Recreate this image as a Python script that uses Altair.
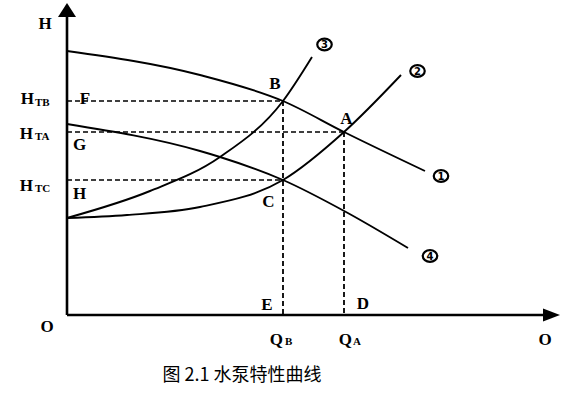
import altair as alt
import pandas as pd

# ---- data (Q, H in chart units; origin at O) ----
curve1_q = [0, 133, 216, 277, 358]
curve1_h = [264, 240, 214, 183, 144]
curve2_q = [0, 60, 133, 216, 277, 334]
curve2_h = [97, 100, 108, 135, 183, 240]
curve3_q = [0, 83, 153, 216, 245]
curve3_h = [97, 124, 158, 214, 258]
curve4_q = [0, 133, 153, 216, 279, 341]
curve4_h = [191, 164, 158, 135, 103, 67]

point_names = ["B", "A", "C"]
point_q = [216, 277, 216]
point_h = [214, 183, 135]

# centred letters
main_text = ["H", "F", "G", "H", "B", "A", "C", "E", "D", "O", "O"]
main_q = [-22, 18, 12.5, 12.5, 208, 279.5, 201.5, 200, 296, -20, 478]
main_h = [291.5, 216.5, 170, 121, 231.5, 196.5, 113.5, 10, 11, -12, -25]

# base letters of subscripted labels (right-aligned) and their subscripts (left-aligned)
base_text = ["H", "H", "H", "Q", "Q"]
base_q = [-33, -34, -34, 216, 285]
base_h = [216, 181, 129, -25, -25]
sub_text = ["TB", "TA", "TC", "B", "A"]
sub_q = [-32, -32, -32, 218, 286]
sub_h = [212.5, 178, 126, -26.5, -26.5]

# circled curve numbers
circ_text = ["3", "2", "1", "4"]
circ_q = [257.5, 350.5, 374, 363]
circ_h = [270.5, 244, 139, 59]

caption = "图 2.1  水泵特性曲线"
caption_q = 175
caption_h = -61

X_AXIS_END = 476
Y_AXIS_END = 298

xs = alt.Scale(domain=[-67, 504], nice=False, zero=False)
ys = alt.Scale(domain=[-79, 315], nice=False, zero=False)

rows = []
for name, qs, hs in [("1", curve1_q, curve1_h), ("2", curve2_q, curve2_h),
                     ("3", curve3_q, curve3_h), ("4", curve4_q, curve4_h)]:
    for i, (q, h) in enumerate(zip(qs, hs)):
        rows.append({"curve": name, "Q": q, "H": h, "o": i})
curves = pd.DataFrame(rows)

X = lambda f="Q:Q": alt.X(f, scale=xs, axis=None)
Y = lambda f="H:Q": alt.Y(f, scale=ys, axis=None)

lines = alt.Chart(curves).mark_line(interpolate="monotone", color="black", strokeWidth=1.9).encode(
    x=X(), y=Y(), detail="curve:N", order="o:Q",
)

pts = pd.DataFrame({"name": point_names, "Q": point_q, "H": point_h,
                    "zero": [0] * len(point_names)})
hdash = alt.Chart(pts).mark_rule(color="black", strokeDash=[5, 3], strokeWidth=1.6).encode(
    x=X("zero:Q"), x2="Q:Q", y=Y(),
)
vpts = pts[pts["name"] != "C"]
vdash = alt.Chart(vpts).mark_rule(color="black", strokeDash=[5, 3], strokeWidth=1.8).encode(
    x=X(), y=Y(), y2="zero:Q",
)

axes_df = pd.DataFrame({"Q": [0, 0], "H": [0, 0], "Q2": [X_AXIS_END, 0], "H2": [0, Y_AXIS_END]})
axes = alt.Chart(axes_df).mark_rule(color="black", strokeWidth=2.6).encode(
    x=X(), y=Y(), x2="Q2:Q", y2="H2:Q",
)

arrow_up = alt.Chart(pd.DataFrame({"Q": [0], "H": [Y_AXIS_END + 7]})).mark_point(
    shape="M0,-0.78L1,0.78L-1,0.78Z", size=324, filled=True, color="black", opacity=1
).encode(x=X(), y=Y())
arrow_right = alt.Chart(pd.DataFrame({"Q": [X_AXIS_END + 8.5], "H": [0]})).mark_point(
    shape="M1,0L-1,-0.76L-1,0.76Z", size=289, filled=True, color="black", opacity=1
).encode(x=X(), y=Y())

serif = dict(font="Liberation Serif", fontWeight="bold", color="black", baseline="middle")

main = alt.Chart(pd.DataFrame({"t": main_text, "Q": main_q, "H": main_h})).mark_text(
    fontSize=17, align="center", **serif
).encode(x=X(), y=Y(), text="t:N")

base = alt.Chart(pd.DataFrame({"t": base_text, "Q": base_q, "H": base_h})).mark_text(
    fontSize=17, align="right", **serif
).encode(x=X(), y=Y(), text="t:N")

sub = alt.Chart(pd.DataFrame({"t": sub_text, "Q": sub_q, "H": sub_h})).mark_text(
    fontSize=11, align="left", **serif
).encode(x=X(), y=Y(), text="t:N")

circ_df = pd.DataFrame({"t": circ_text, "Q": circ_q, "H": circ_h})
rings = alt.Chart(circ_df).mark_point(
    shape="M-1,0A1,0.82 0 1,1 1,0A1,0.82 0 1,1 -1,0Z", size=210, filled=False,
    color="black", strokeWidth=2.2, opacity=1
).encode(x=X(), y=Y())
digits = alt.Chart(circ_df).mark_text(
    font="DejaVu Sans", fontWeight="bold", fontSize=10, color="black", align="center", baseline="middle", dy=0.5
).encode(x=X(), y=Y(), text="t:N")

cap = alt.Chart(pd.DataFrame({"t": [caption], "Q": [caption_q], "H": [caption_h]})).mark_text(
    font="Noto Sans CJK SC", fontSize=18, color="black", align="center", baseline="middle"
).encode(x=X(), y=Y(), text="t:N")

chart = alt.layer(lines, hdash, vdash, axes, arrow_up, arrow_right, main, base, sub,
                  rings, digits, cap).properties(
    width=571, height=394, padding=0, autosize=alt.AutoSizeParams(type="none"),
    background="white",
).configure_view(stroke=None)

chart.save("out.html", embed_options={"renderer": "svg", "actions": False})
